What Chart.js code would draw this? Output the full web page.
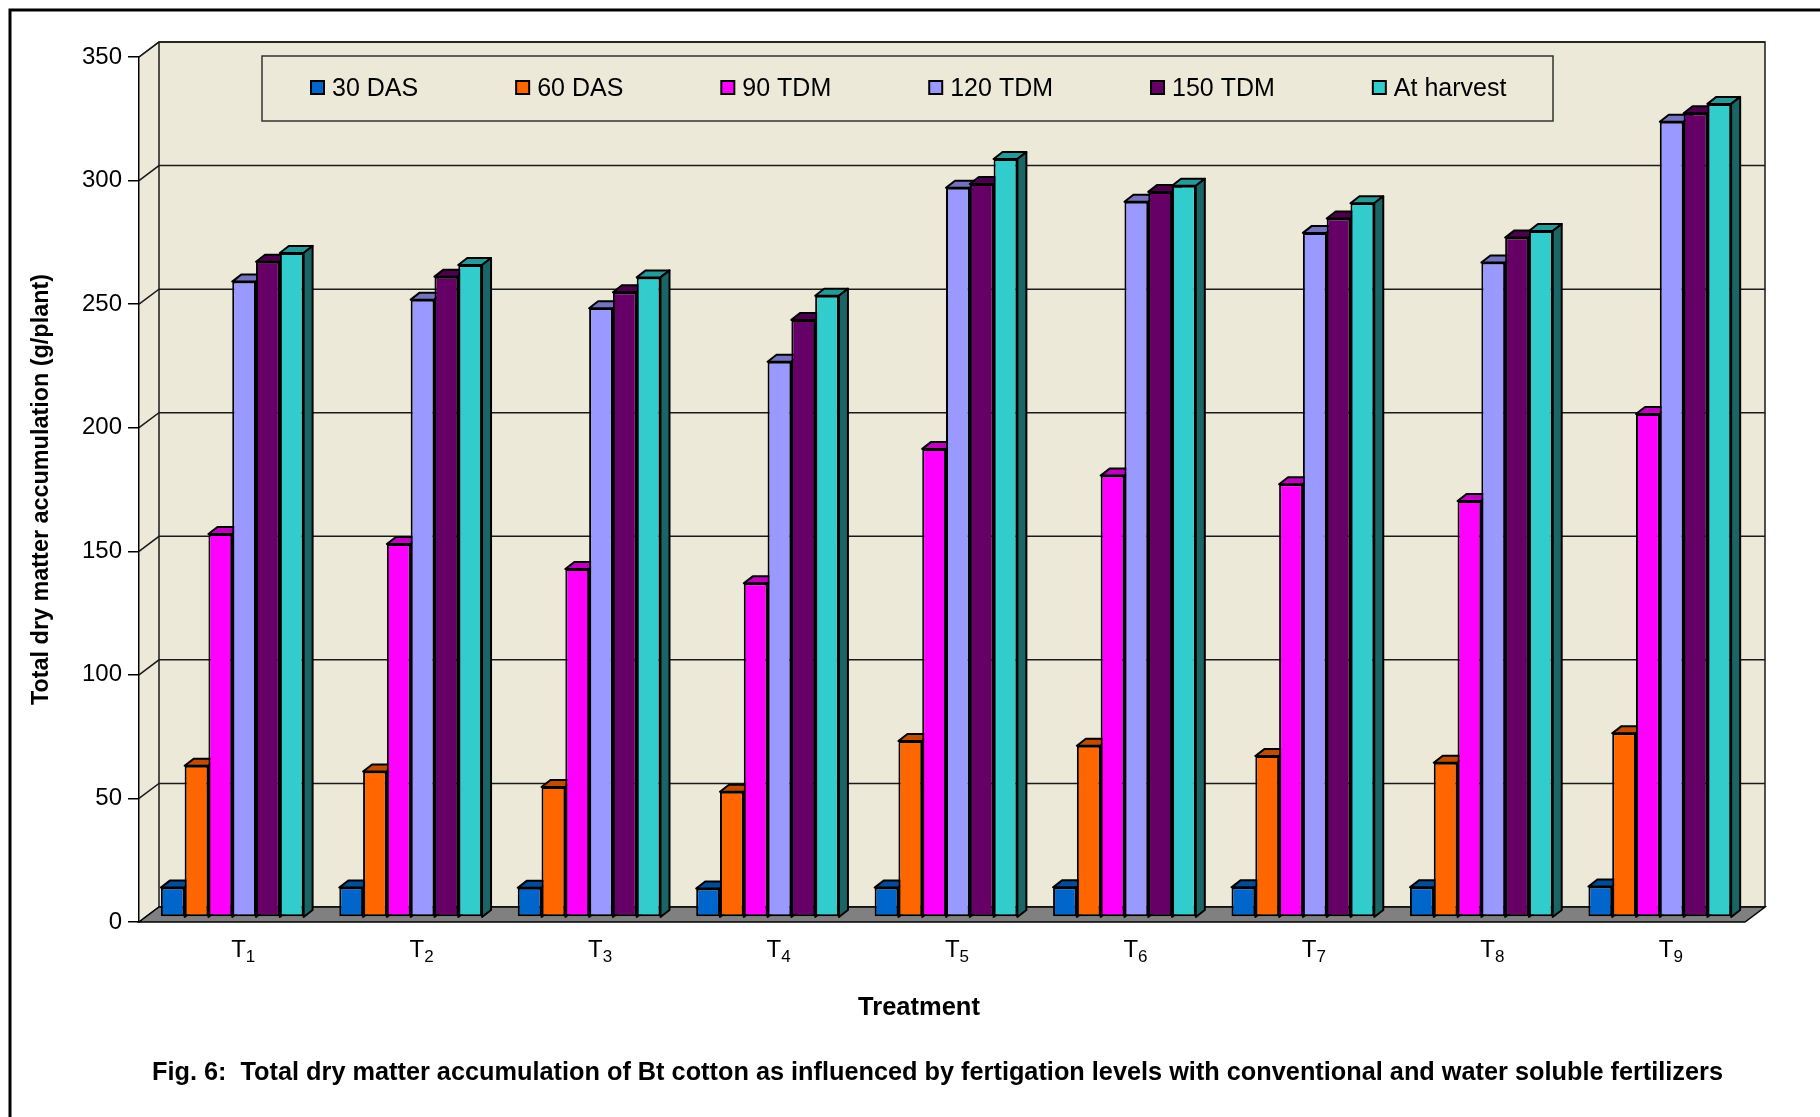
<!DOCTYPE html>
<html>
<head>
<meta charset="utf-8">
<title>Total dry matter accumulation of Bt cotton</title>
<script src="https://cdn.jsdelivr.net/npm/chart.js@4.4.1/dist/chart.umd.min.js"></script>
<style>
  html, body { margin: 0; padding: 0; background: #ffffff; }
  #wrap { width: 1820px; height: 1117px; position: relative; }
</style>
</head>
<body>
<div id="wrap"><canvas id="chart"></canvas></div>
<script>
// ---- data ----
const treatments = ['T1', 'T2', 'T3', 'T4', 'T5', 'T6', 'T7', 'T8', 'T9'];
const seriesNames = ['30 DAS', '60 DAS', '90 TDM', '120 TDM', '150 TDM', 'At harvest'];
const das30     = [11.9, 11.9, 11.8, 11.5, 11.9, 12.0, 12.0, 12.0, 12.3];
const das60     = [61.2, 58.9, 52.6, 50.7, 71.2, 69.3, 65.1, 62.4, 74.3];
const tdm90     = [155.0, 150.9, 140.8, 135.0, 189.4, 178.6, 175.1, 168.3, 203.5];
const tdm120    = [257.1, 249.8, 246.3, 224.7, 295.1, 289.4, 276.8, 264.8, 321.8];
const tdm150    = [265.1, 259.1, 252.8, 241.6, 296.6, 293.4, 282.6, 274.9, 325.2];
const atHarvest = [268.7, 263.8, 258.8, 251.4, 306.7, 295.9, 288.8, 277.6, 329.0];
const yMin = 0, yMax = 350, yStep = 50;

const yTitle = 'Total dry matter accumulation (g/plant)';
const xTitle = 'Treatment';
const caption = 'Fig. 6:  Total dry matter accumulation of Bt cotton as influenced by fertigation levels with conventional and water soluble fertilizers';

// ---- styling ----
const FONT = '"Liberation Sans", Arial, Helvetica, sans-serif';
const frontColors = ['#0066CC', '#FF6600', '#FF00FF', '#9999FF', '#660066', '#33CCCC'];
const topColors   = ['#004C99', '#BF4C00', '#BF00BF', '#7373BF', '#4C004C', '#269999'];
const sideColors  = ['#003366', '#803300', '#800080', '#4D4D80', '#330033', '#1A6666'];
const WALL = '#ECE9D8';
const FLOOR = '#808080';
const WALL_DX = 20, WALL_DY = 15;   // depth of the plot box
const BAR_DX = 9, BAR_DY = 7;       // depth of each column
const BAR_SX = 4, BAR_SY = -5;      // columns sit slightly behind the front plane

const seriesValues = [das30, das60, tdm90, tdm120, tdm150, atHarvest];

function poly(ctx, pts, fill, stroke, lw) {
  ctx.beginPath();
  ctx.moveTo(pts[0][0], pts[0][1]);
  for (let i = 1; i < pts.length; i++) ctx.lineTo(pts[i][0], pts[i][1]);
  ctx.closePath();
  if (fill) { ctx.fillStyle = fill; ctx.fill(); }
  if (stroke) { ctx.strokeStyle = stroke; ctx.lineWidth = lw || 1.5; ctx.stroke(); }
}

// Draws the 3-D box (walls, floor, gridlines), the columns with their top and
// side faces, and the remaining texts (legend, category labels, titles, caption).
const scene3d = {
  id: 'scene3d',
  beforeDraw(chart) {
    const { ctx, chartArea: a } = chart;
    const yS = chart.scales.y;
    const L = a.left, R = a.right, T = a.top, B = a.bottom;
    ctx.save();
    ctx.fillStyle = '#ffffff';
    ctx.fillRect(0, 0, chart.width, chart.height);

    // page frame
    ctx.strokeStyle = '#000';
    ctx.lineWidth = 3;
    ctx.beginPath();
    ctx.moveTo(10, chart.height);
    ctx.lineTo(10, 10);
    ctx.lineTo(chart.width, 10);
    ctx.stroke();

    ctx.lineJoin = 'miter';
    // back wall and left side wall
    poly(ctx, [[L + WALL_DX, T - WALL_DY], [R + WALL_DX, T - WALL_DY], [R + WALL_DX, B - WALL_DY], [L + WALL_DX, B - WALL_DY]], WALL);
    poly(ctx, [[L, B], [L, T], [L + WALL_DX, T - WALL_DY], [L + WALL_DX, B - WALL_DY]], WALL);

    // gridlines running across the side wall and the back wall
    ctx.strokeStyle = '#1a1a1a';
    ctx.lineWidth = 1.5;
    for (let v = yMin; v <= yMax; v += yStep) {
      const py = yS.getPixelForValue(v);
      ctx.beginPath();
      ctx.moveTo(L, py);
      ctx.lineTo(L + WALL_DX, py - WALL_DY);
      ctx.lineTo(R + WALL_DX, py - WALL_DY);
      ctx.stroke();
    }
    // wall outlines
    ctx.beginPath();
    ctx.moveTo(L, T);
    ctx.lineTo(L + WALL_DX, T - WALL_DY);
    ctx.lineTo(R + WALL_DX, T - WALL_DY);
    ctx.lineTo(R + WALL_DX, B - WALL_DY);
    ctx.moveTo(L + WALL_DX, T - WALL_DY);
    ctx.lineTo(L + WALL_DX, B - WALL_DY);
    ctx.stroke();

    // floor
    poly(ctx, [[L, B], [R, B], [R + WALL_DX, B - WALL_DY], [L + WALL_DX, B - WALL_DY]], FLOOR, '#000', 1.5);
    ctx.restore();
  },

  beforeDatasetsDraw(chart) {
    const ctx = chart.ctx;
    const base = chart.scales.y.getPixelForValue(0);
    ctx.save();
    ctx.translate(BAR_SX, BAR_SY);
    ctx.lineJoin = 'round';
    // left-to-right order so each column covers the hidden faces of its left neighbour
    chart.data.datasets.forEach((ds, k) => {
      const meta = chart.getDatasetMeta(k);
      meta.data.forEach(bar => {
        bar.draw(ctx);
        const { x, y, width } = bar.getProps(['x', 'y', 'width'], true);
        const l = x - width / 2, r = x + width / 2;
        poly(ctx, [[l, y], [l + BAR_DX, y - BAR_DY], [r + BAR_DX, y - BAR_DY], [r, y]], topColors[k], '#000', 2);
        poly(ctx, [[r, y], [r + BAR_DX, y - BAR_DY], [r + BAR_DX, base - BAR_DY], [r, base]], sideColors[k], '#000', 2);
      });
    });
    ctx.restore();
    return false;
  },

  afterDraw(chart) {
    const { ctx, chartArea: a } = chart;
    const xS = chart.scales.x;
    ctx.save();
    ctx.fillStyle = '#000';

    // legend box
    const lgX = 262, lgY = 56, lgW = 1291, lgH = 65;
    ctx.strokeStyle = '#333';
    ctx.lineWidth = 1.5;
    ctx.strokeRect(lgX, lgY, lgW, lgH);
    ctx.font = '25px ' + FONT;
    ctx.textBaseline = 'middle';
    ctx.textAlign = 'left';
    let cx = 311;
    const cy = 88;
    chart.data.datasets.forEach((ds) => {
      ctx.fillStyle = ds.backgroundColor;
      ctx.fillRect(cx, cy - 7, 13, 13);
      ctx.strokeStyle = '#000';
      ctx.lineWidth = 2;
      ctx.strokeRect(cx, cy - 7, 13, 13);
      ctx.fillStyle = '#000';
      ctx.fillText(ds.label, cx + 21, cy + 1);
      cx += 21 + ctx.measureText(ds.label).width + 98;
    });

    // category labels with subscript numbers
    ctx.textBaseline = 'alphabetic';
    chart.data.labels.forEach((lab, i) => {
      const main = lab.charAt(0), sub = lab.slice(1);
      ctx.font = '24px ' + FONT;
      const wm = ctx.measureText(main).width;
      ctx.font = '17px ' + FONT;
      const ws = ctx.measureText(sub).width;
      const px = xS.getPixelForValue(i) + 15 - (wm + ws) / 2;
      ctx.font = '24px ' + FONT;
      ctx.fillText(main, px, 957);
      ctx.font = '17px ' + FONT;
      ctx.fillText(sub, px + wm, 962);
    });

    // axis titles
    ctx.font = 'bold 25.5px ' + FONT;
    ctx.textAlign = 'center';
    ctx.textBaseline = 'middle';
    ctx.fillText(xTitle, 919, 1008);

    ctx.save();
    ctx.translate(42, (a.top + a.bottom) / 2);
    ctx.rotate(-Math.PI / 2);
    ctx.font = 'bold 23.4px ' + FONT;
    ctx.fillText(yTitle, 0, 0);
    ctx.restore();

    // caption
    ctx.font = 'bold 25.3px ' + FONT;
    ctx.textAlign = 'left';
    ctx.fillText(caption, 152, 1073);
    ctx.restore();
  }
};

const datasets = seriesNames.map((name, k) => ({
  label: name,
  data: seriesValues[k],
  backgroundColor: frontColors[k],
  borderColor: '#000000',
  borderWidth: 2,
  borderSkipped: false,
  categoryPercentage: 0.8,
  barPercentage: 1.0
}));

new Chart(document.getElementById('chart'), {
  type: 'bar',
  data: { labels: treatments, datasets },
  plugins: [scene3d],
  options: {
    responsive: true,
    maintainAspectRatio: false,
    animation: false,
    events: [],
    layout: { padding: { left: 0, right: 75, top: 57, bottom: 0 } },
    plugins: {
      legend: { display: false },
      tooltip: { enabled: false },
      title: { display: false }
    },
    scales: {
      x: {
        type: 'category',
        offset: true,
        grid: { display: false },
        border: { display: false },
        ticks: { display: false },
        afterFit(scale) { scale.height = 195; }
      },
      y: {
        min: yMin,
        max: yMax,
        ticks: {
          stepSize: yStep,
          color: '#000',
          padding: 6,
          font: { family: FONT, size: 24 }
        },
        grid: { drawOnChartArea: false, drawTicks: true, tickLength: 11, color: '#000', lineWidth: 1.5 },
        border: { display: true, color: '#000', width: 1.5 },
        afterFit(scale) { scale.width = 139; }
      }
    }
  }
});
</script>
</body>
</html>
